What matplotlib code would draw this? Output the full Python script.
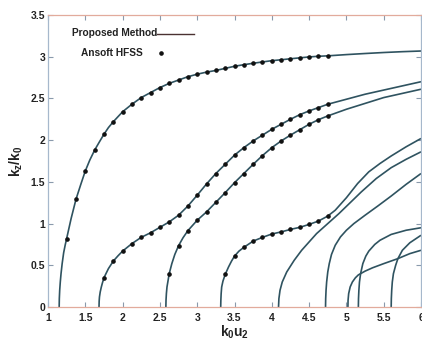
import matplotlib
matplotlib.use("Agg")
from matplotlib import pyplot as plt

plt.rcParams['font.family'] = ['Liberation Sans', 'DejaVu Sans']
plt.rcParams['font.weight'] = 'bold'
plt.rcParams['mathtext.fontset'] = 'custom'
plt.rcParams['mathtext.rm'] = 'Liberation Sans:bold'
plt.rcParams['mathtext.it'] = 'Liberation Sans:bold'
plt.rcParams['mathtext.bf'] = 'Liberation Sans:bold'

# dispersion curves, proposed method (k0*u2 , kz/k0)
mode1_x = [1.15, 1.152, 1.157, 1.165, 1.175, 1.19, 1.21, 1.23, 1.25, 1.31, 1.375, 1.44, 1.5, 1.56,
           1.625, 1.69, 1.75, 1.81, 1.875, 2.0, 2.125, 2.25, 2.375, 2.5, 2.625, 2.75, 2.875, 3.0,
           3.125, 3.25, 3.375, 3.5, 3.625, 3.75, 3.875, 4.0, 4.125, 4.25, 4.375, 4.5, 4.625, 4.75,
           5.0, 5.25, 5.5, 5.75, 6.0]
mode1_y = [0, 0.1, 0.2, 0.3, 0.4, 0.52, 0.65, 0.74, 0.82, 1.06, 1.29, 1.47, 1.63, 1.76,
           1.88, 1.98, 2.07, 2.15, 2.22, 2.34, 2.43, 2.51, 2.57, 2.63, 2.68, 2.72, 2.76, 2.79,
           2.815, 2.835, 2.86, 2.885, 2.904, 2.921, 2.937, 2.952, 2.963, 2.975, 2.986, 2.997, 3.005, 3.01,
           3.025, 3.038, 3.05, 3.06, 3.068]

mode2_x = [1.684, 1.686, 1.69, 1.7, 1.715, 1.73, 1.75, 1.81, 1.875, 1.94, 2.0, 2.125, 2.25, 2.375,
           2.5, 2.625, 2.75, 2.875, 3.0, 3.125, 3.25, 3.375, 3.5, 3.625, 3.75, 3.875, 4.0, 4.125,
           4.25, 4.375, 4.5, 4.625, 4.75, 5.0, 5.25, 5.5, 5.75, 6.0]
mode2_y = [0, 0.07, 0.12, 0.18, 0.24, 0.29, 0.35, 0.46, 0.55, 0.615, 0.67, 0.76, 0.835, 0.89,
           0.955, 1.02, 1.10, 1.21, 1.34, 1.475, 1.60, 1.71, 1.82, 1.91, 1.99, 2.06, 2.13, 2.19,
           2.25, 2.305, 2.35, 2.39, 2.43, 2.49, 2.55, 2.60, 2.65, 2.70]

mode3_x = [2.58, 2.582, 2.587, 2.595, 2.61, 2.625, 2.66, 2.7, 2.75, 2.81, 2.875, 2.94, 3.0, 3.125,
           3.25, 3.375, 3.5, 3.625, 3.75, 3.875, 4.0, 4.125, 4.25, 4.375, 4.5, 4.625, 4.75,
           5.0, 5.25, 5.5, 5.75, 6.0]
mode3_y = [0, 0.08, 0.16, 0.24, 0.32, 0.40, 0.52, 0.63, 0.735, 0.83, 0.915, 0.98, 1.04, 1.14,
           1.255, 1.37, 1.49, 1.60, 1.71, 1.815, 1.91, 1.99, 2.06, 2.125, 2.19, 2.245, 2.29,
           2.37, 2.44, 2.51, 2.56, 2.61]

mode4_x = [3.315, 3.317, 3.321, 3.328, 3.345, 3.375, 3.42, 3.46, 3.5, 3.56, 3.625, 3.75, 3.875, 4.0,
           4.125, 4.25, 4.375, 4.5, 4.625, 4.75, 4.85, 5.0, 5.15, 5.3, 5.45, 5.6, 5.8, 6.0]
mode4_y = [0, 0.08, 0.16, 0.24, 0.31, 0.39, 0.48, 0.55, 0.61, 0.67, 0.715, 0.79, 0.835, 0.875,
           0.90, 0.93, 0.955, 0.99, 1.03, 1.09, 1.16, 1.31, 1.48, 1.62, 1.72, 1.81, 1.92, 2.02]

mode5_x = [4.09, 4.095, 4.11, 4.14, 4.2, 4.3, 4.4, 4.5, 4.6, 4.75, 4.9, 5.05, 5.2, 5.4, 5.6, 5.8, 6.0]
mode5_y = [0, 0.1, 0.2, 0.3, 0.42, 0.56, 0.68, 0.78, 0.88, 1.0, 1.12, 1.25, 1.38, 1.54, 1.67, 1.77, 1.86]

mode6_x = [4.72, 4.722, 4.727, 4.735, 4.75, 4.77, 4.8, 4.85, 4.92, 5.0, 5.1, 5.25, 5.42, 5.6, 5.8, 6.0]
mode6_y = [0, 0.1, 0.2, 0.3, 0.42, 0.52, 0.63, 0.74, 0.84, 0.92, 1.0, 1.1, 1.21, 1.33, 1.47, 1.6]

mode7_x = [5.02, 5.022, 5.03, 5.05, 5.08, 5.12, 5.16, 5.25, 5.35, 5.5, 5.69, 5.85, 6.0]
mode7_y = [0, 0.08, 0.16, 0.24, 0.3, 0.35, 0.385, 0.43, 0.47, 0.52, 0.58, 0.64, 0.68]

mode8_x = [5.16, 5.162, 5.167, 5.175, 5.19, 5.22, 5.26, 5.3, 5.38, 5.45, 5.6, 5.8, 6.0]
mode8_y = [0, 0.1, 0.2, 0.3, 0.4, 0.52, 0.61, 0.67, 0.75, 0.8, 0.87, 0.92, 0.95]

mode9_x = [5.6, 5.602, 5.607, 5.615, 5.63, 5.66, 5.69, 5.75, 5.85, 6.0]
mode9_y = [0, 0.1, 0.2, 0.3, 0.4, 0.5, 0.58, 0.68, 0.77, 0.86]

# HFSS simulation points
hfss1_x = [1.25, 1.375, 1.5, 1.625, 1.75, 1.875, 2.0, 2.125, 2.25, 2.375, 2.5, 2.625, 2.75, 2.875,
           3.0, 3.125, 3.25, 3.375, 3.5, 3.625, 3.75, 3.875, 4.0, 4.125, 4.25, 4.375, 4.5, 4.625, 4.75]
hfss1_y = [0.82, 1.29, 1.63, 1.88, 2.07, 2.22, 2.34, 2.43, 2.51, 2.57, 2.63, 2.68, 2.72, 2.76,
           2.79, 2.815, 2.835, 2.86, 2.885, 2.904, 2.921, 2.937, 2.952, 2.963, 2.975, 2.986, 2.997, 3.005, 3.01]
hfss2_x = [1.75, 1.875, 2.0, 2.125, 2.25, 2.375, 2.5, 2.625, 2.75, 2.875, 3.0, 3.125, 3.25,
           3.375, 3.5, 3.625, 3.75, 3.875, 4.0, 4.125, 4.25, 4.375, 4.5, 4.625, 4.75]
hfss2_y = [0.35, 0.55, 0.67, 0.76, 0.835, 0.89, 0.955, 1.02, 1.10, 1.21, 1.34, 1.475, 1.60,
           1.71, 1.82, 1.91, 1.99, 2.06, 2.13, 2.19, 2.25, 2.305, 2.35, 2.39, 2.43]
hfss3_x = [2.625, 2.75, 2.875, 3.0, 3.125, 3.25, 3.375, 3.5, 3.625, 3.75, 3.875, 4.0, 4.125,
           4.25, 4.375, 4.5, 4.625, 4.75]
hfss3_y = [0.40, 0.735, 0.915, 1.04, 1.14, 1.255, 1.37, 1.49, 1.60, 1.71, 1.815, 1.91, 1.99,
           2.06, 2.125, 2.19, 2.245, 2.29]
hfss4_x = [3.375, 3.5, 3.625, 3.75, 3.875, 4.0, 4.125, 4.25, 4.375, 4.5, 4.625, 4.75]
hfss4_y = [0.39, 0.61, 0.715, 0.79, 0.835, 0.875, 0.90, 0.93, 0.955, 0.99, 1.03, 1.09]

x_ticks = [1, 1.5, 2, 2.5, 3, 3.5, 4, 4.5, 5, 5.5, 6]
y_ticks = [0, 0.5, 1, 1.5, 2, 2.5, 3, 3.5]

line_color = '#2f5360'

fig = plt.figure(figsize=(4.22, 3.40), dpi=100)
ax = fig.add_axes([0.1137, 0.097, 0.884, 0.859])

modes = [(mode1_x, mode1_y), (mode2_x, mode2_y), (mode3_x, mode3_y), (mode4_x, mode4_y),
         (mode5_x, mode5_y), (mode6_x, mode6_y), (mode7_x, mode7_y), (mode8_x, mode8_y),
         (mode9_x, mode9_y)]
for mx, my in modes:
    ax.plot(mx, my, color=line_color, lw=1.2, solid_capstyle='butt')

for hx, hy in [(hfss1_x, hfss1_y), (hfss2_x, hfss2_y), (hfss3_x, hfss3_y), (hfss4_x, hfss4_y)]:
    ax.plot(hx, hy, 'o', color='#111111', ms=2.3, mec='#111111', lw=0)

ax.set_xlim(1, 6)
ax.set_ylim(0, 3.5)
ax.set_xticks(x_ticks)
ax.set_yticks(y_ticks)
ax.set_xticklabels([f'{v:g}' for v in x_ticks], fontweight='bold')
ax.set_yticklabels([f'{v:g}' for v in y_ticks], fontweight='bold')
ax.tick_params(direction='in', top=True, right=True, length=3.5, width=0.8,
               color='#8a9aac', labelsize=7.5, labelcolor='#222222')
ax.tick_params(axis='x', pad=4)
ax.tick_params(axis='y', pad=2)

for side in ['top', 'bottom']:
    ax.spines[side].set_color('#e2ab9c')
for side in ['left', 'right']:
    ax.spines[side].set_color('#a6b8cc')
for sp in ax.spines.values():
    sp.set_linewidth(0.9)

ax.set_xlabel(r'$k_0u_2$', fontsize=10, labelpad=1, color='#222222')
ax.set_ylabel(r'$k_z/k_0$', fontsize=10, labelpad=4, color='#222222')

# legend drawn by hand: label first, sample after it
ax.text(0.0635, 0.938, 'Proposed Method', transform=ax.transAxes, fontsize=7.3,
        fontweight='bold', va='center', ha='left', color='#222222')
ax.plot([0.2914, 0.3922], [0.935, 0.935], transform=ax.transAxes, color='#4a3232', lw=1.0)
ax.text(0.0877, 0.869, 'Ansoft HFSS', transform=ax.transAxes, fontsize=7.3,
        fontweight='bold', va='center', ha='left', color='#222222')
ax.plot([0.3029], [0.8705], 'o', transform=ax.transAxes, color='#111111', ms=2.3)

fig.savefig('out.png', dpi=100)
plt.close(fig)
